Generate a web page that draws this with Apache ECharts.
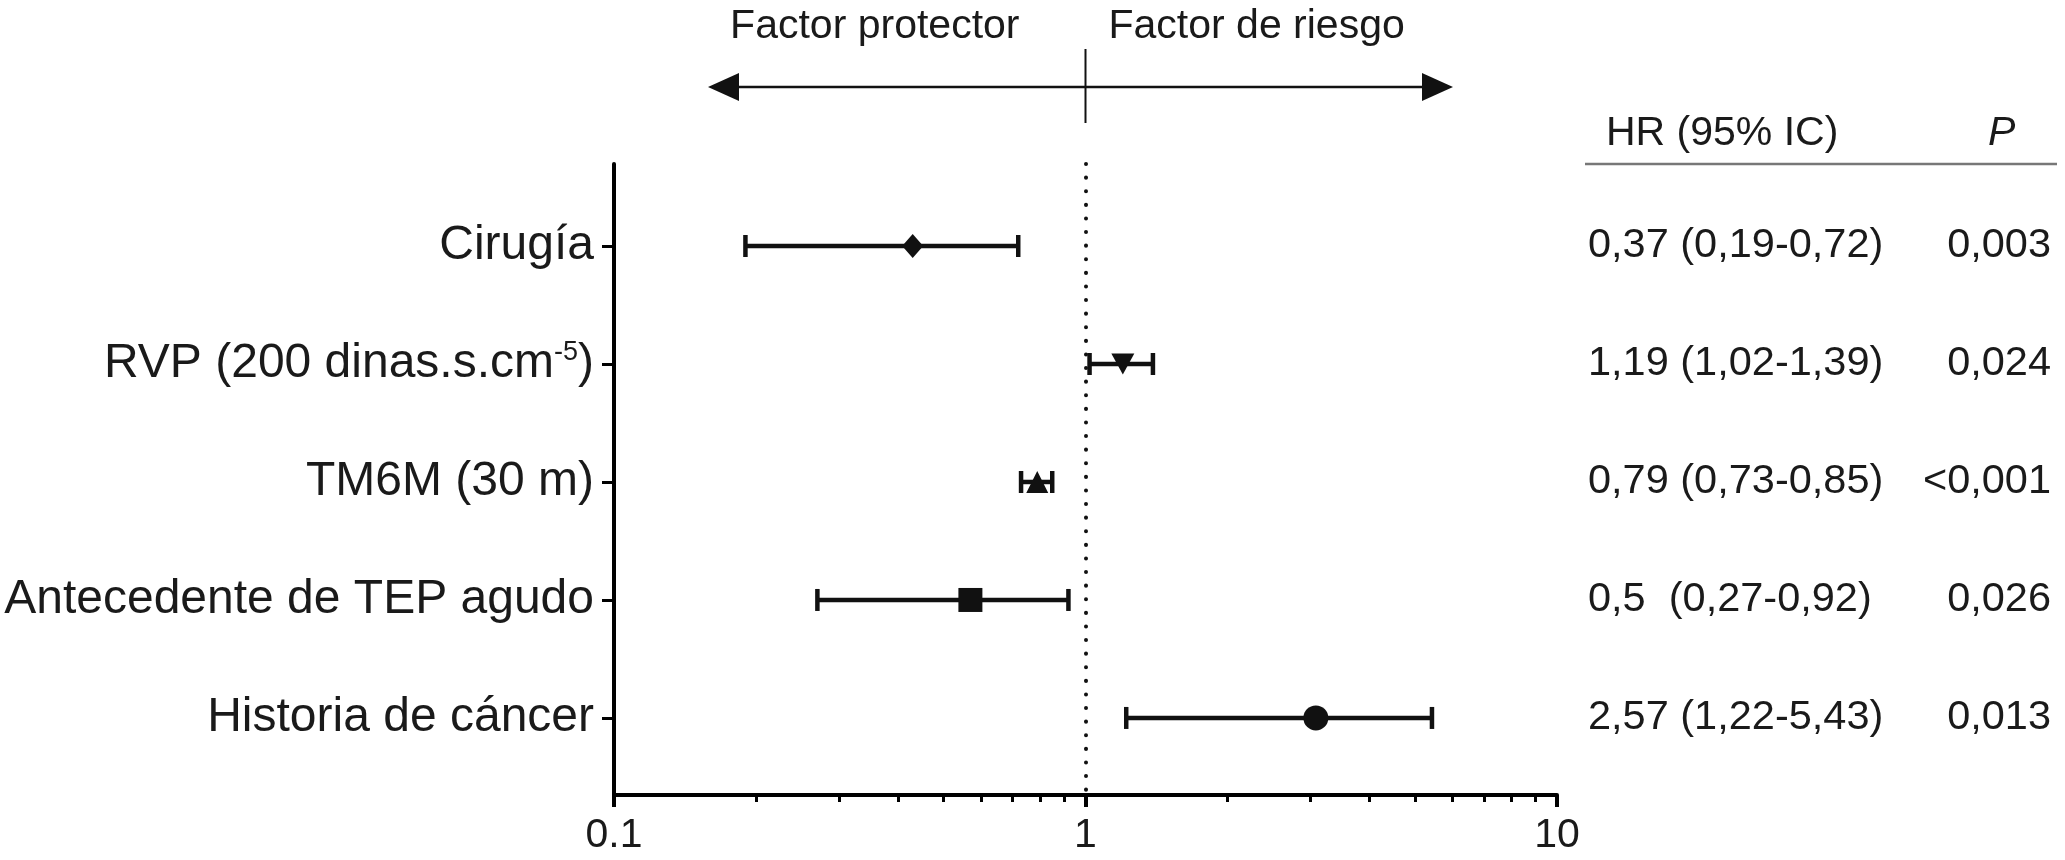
<!DOCTYPE html>
<html><head><meta charset="utf-8">
<script src="https://cdn.jsdelivr.net/npm/echarts@6/dist/echarts.min.js"></script>
<style>html,body{margin:0;padding:0;background:#fff}#c{width:2065px;height:860px}</style>
</head><body><div id="c"></div>
<script>
// ---- data ----
const categories = ['Cirugía', 'RVP (200 dinas.s.cm-5)', 'TM6M (30 m)', 'Antecedente de TEP agudo', 'Historia de cáncer'];
const hrPoint = [0.43, 1.20, 0.79, 0.57, 3.08];
const ciLow = [0.19, 1.02, 0.73, 0.27, 1.22];
const ciHigh = [0.72, 1.39, 0.85, 0.92, 5.43];
const hrLabels = ['0,37 (0,19-0,72)', '1,19 (1,02-1,39)', '0,79 (0,73-0,85)', '0,5  (0,27-0,92)', '2,57 (1,22-5,43)'];
const pLabels = ['0,003', '0,024', '<0,001', '0,026', '0,013'];
const xMajorTicks = [0.1, 1, 10];
const xTickLabels = ['0.1', '1', '10'];
const xMinorTicks = [0.2, 0.3, 0.4, 0.5, 0.6, 0.7, 0.8, 0.9, 2, 3, 4, 5, 6, 7, 8, 9];
const rows = [0, 1, 2, 3, 4];

// ---- styles ----
const FONT = "'Liberation Sans', Arial, Helvetica, sans-serif";
const TXT = '#1a1a1a';
const markerStyles = [
  { symbol: 'diamond', symbolSize: [21, 24] },
  { symbol: 'triangle', symbolSize: [23, 21], symbolRotate: 180 },
  { symbol: 'triangle', symbolSize: [22, 22] },
  { symbol: 'rect', symbolSize: [24, 24] },
  { symbol: 'circle', symbolSize: 25 }
];

const chart = echarts.init(document.getElementById('c'), null, { renderer: 'canvas' });

const yBase = { type: 'value', min: -0.695, max: 4.653, inverse: true, splitLine: { show: false } };

const option = {
  backgroundColor: '#ffffff',
  animation: false,
  grid: { left: 614, right: 508, top: 164, bottom: 65, containLabel: false },
  xAxis: [
    {
      type: 'log', logBase: 10, min: 0.1, max: 10, position: 'bottom',
      axisLine: { show: true, onZero: false, lineStyle: { color: '#000', width: 4 } },
      axisTick: { show: true, customValues: xMajorTicks, length: 12, lineStyle: { color: '#000', width: 4 } },
      axisLabel: {
        show: true, customValues: xMajorTicks, margin: 20, fontSize: 41, color: TXT, fontFamily: FONT,
        formatter: function (v) {
          for (let i = 0; i < xMajorTicks.length; i++) {
            if (Math.abs(Math.log10(v) - Math.log10(xMajorTicks[i])) < 1e-6) return xTickLabels[i];
          }
          return '';
        }
      },
      splitLine: { show: false }, minorTick: { show: false }
    },
    {
      type: 'log', logBase: 10, min: 0.1, max: 10, position: 'bottom', gridIndex: 0,
      axisLine: { show: false, onZero: false },
      axisTick: { show: true, customValues: xMinorTicks, length: 7, lineStyle: { color: '#000', width: 3 } },
      axisLabel: { show: false },
      splitLine: { show: false }
    }
  ],
  yAxis: [
    Object.assign({}, yBase, {
      position: 'left',
      axisLine: { show: true, onZero: false, lineStyle: { color: '#000', width: 4 } },
      axisTick: { show: true, customValues: rows, length: 12, lineStyle: { color: '#000', width: 3 } },
      axisLabel: {
        show: true, customValues: rows, margin: 20, fontSize: 48, color: TXT, fontFamily: FONT,
        formatter: function (v) {
          const i = Math.round(v);
          if (i === 1) return 'RVP (200 dinas.s.cm{sup|-5})';
          return categories[i] || '';
        },
        rich: {
          sup: { fontSize: 27, fontFamily: FONT, color: TXT, padding: [0, 0, 22, 0] }
        }
      }
    }),
    Object.assign({}, yBase, {
      position: 'right',
      axisLine: { show: false, onZero: false }, axisTick: { show: false },
      axisLabel: {
        show: true, customValues: rows, margin: 31, fontSize: 41.5, color: TXT, fontFamily: FONT, align: 'left',
        padding: [14, 0, 0, 0],
        formatter: function (v) { return hrLabels[Math.round(v)] || ''; }
      }
    }),
    Object.assign({}, yBase, {
      position: 'right',
      axisLine: { show: false, onZero: false }, axisTick: { show: false },
      axisLabel: {
        show: true, customValues: rows, margin: 494, fontSize: 41.5, color: TXT, fontFamily: FONT, align: 'right',
        padding: [14, 0, 0, 0],
        formatter: function (v) { return pLabels[Math.round(v)] || ''; }
      }
    })
  ],
  series: [
    {
      type: 'custom',
      xAxisIndex: 0, yAxisIndex: 0,
      encode: { x: [0, 1], y: 2 },
      data: rows.map(i => [ciLow[i], ciHigh[i], i]),
      renderItem: function (params, api) {
        const a = api.coord([api.value(0), api.value(2)]);
        const b = api.coord([api.value(1), api.value(2)]);
        const h = 11;
        const st = { stroke: '#111', lineWidth: 4.5, fill: null };
        return {
          type: 'group',
          children: [
            { type: 'line', shape: { x1: a[0], y1: a[1], x2: b[0], y2: b[1] }, style: st },
            { type: 'line', shape: { x1: a[0], y1: a[1] - h, x2: a[0], y2: a[1] + h }, style: st },
            { type: 'line', shape: { x1: b[0], y1: b[1] - h, x2: b[0], y2: b[1] + h }, style: st }
          ]
        };
      },
      z: 2,
      markLine: {
        silent: true, symbol: 'none', label: { show: false },
        lineStyle: { color: '#111', width: 4, type: [0.1, 13.5], cap: 'round' },
        data: [{ xAxis: 1 }]
      }
    },
    {
      type: 'scatter',
      xAxisIndex: 0, yAxisIndex: 0,
      data: rows.map(i => Object.assign({ value: [hrPoint[i], i] }, markerStyles[i])),
      itemStyle: { color: '#111', opacity: 1 },
      z: 5
    }
  ]
};
chart.setOption(option);

const x1 = chart.convertToPixel({ xAxisIndex: 0 }, 1);
chart.setOption({
  graphic: [
    { type: 'text', x: x1 - 66, y: 27, style: { text: 'Factor protector', fontSize: 41, fontFamily: FONT, fill: TXT, align: 'right', verticalAlign: 'middle' } },
    { type: 'text', x: x1 + 23, y: 27, style: { text: 'Factor de riesgo', fontSize: 41, fontFamily: FONT, fill: TXT, align: 'left', verticalAlign: 'middle' } },
    { type: 'line', shape: { x1: x1, y1: 49, x2: x1, y2: 123 }, style: { stroke: '#111', lineWidth: 2 } },
    { type: 'line', shape: { x1: 725, y1: 87, x2: 1436, y2: 87 }, style: { stroke: '#111', lineWidth: 2.5 } },
    { type: 'polygon', shape: { points: [[708, 87], [739, 73], [739, 101]] }, style: { fill: '#111' } },
    { type: 'polygon', shape: { points: [[1453, 87], [1422, 73], [1422, 101]] }, style: { fill: '#111' } },
    { type: 'text', x: 1606, y: 134, style: { text: 'HR (95% IC)', fontSize: 41, fontFamily: FONT, fill: TXT, align: 'left', verticalAlign: 'middle' } },
    { type: 'text', x: 1988, y: 134, style: { text: 'P', fontSize: 41, fontStyle: 'italic', fontFamily: FONT, fill: TXT, align: 'left', verticalAlign: 'middle' } },
    { type: 'line', shape: { x1: 1585, y1: 164, x2: 2057, y2: 164 }, style: { stroke: '#777', lineWidth: 2.5 } }
  ]
});
</script></body></html>
